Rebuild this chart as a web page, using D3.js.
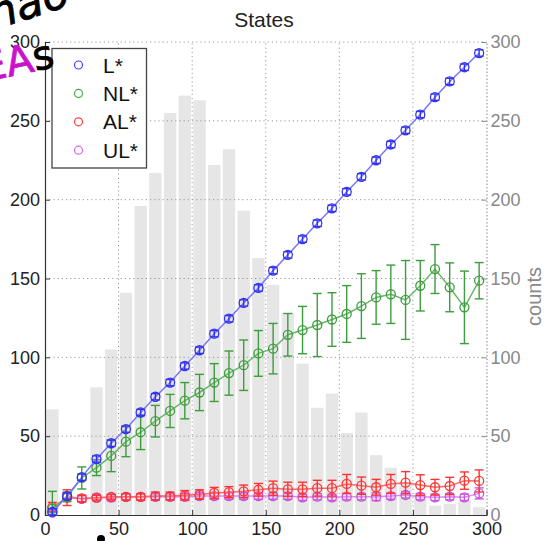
<!DOCTYPE html>
<html><head><meta charset="utf-8">
<script src="https://cdn.jsdelivr.net/npm/d3@7"></script>
<style>
body{margin:0;background:#fff;}
svg{display:block;font-family:"Liberation Sans",Arial,sans-serif;}
</style></head>
<body><svg id="chart" width="544" height="541"></svg>
<script>
const xCenters = [5,15,25,35,45,55,65,75,85,95,105,115,125,135,145,155,165,175,185,195,205,215,225,235,245,255,265,275,285,295];
const counts = [67,0,0,81,105,141,196,217,255,266,263,222,232,193,163,146,128,96,68,77,52,65,38,30,21,14,6,7,9,5];
const L   = [2,12,24,35.5,45.5,54.5,65,75,84,94.5,104.5,115,124.5,134.5,144,155,165,175,185,194.5,205,214.5,225,235,244,254,265,275,284,293];
const Lerr= [2,2,2,2,2,2,2,2,2,2,2,2,2,2,2,2,2,2,2,2,2,2,2,2,2,2,2,2,2,2];
const NL  = [4,11.5,23.5,30,37.5,46.5,52.5,59.5,66,72.5,77.7,84,90,95,102.5,105.5,114.3,117.3,120.5,124,127.5,132.5,138,140,136.4,145.4,156,144.4,131.7,148.6];
const NLerr=[11,3,7,5,10,9.5,11,10,10.5,11.5,11.5,12,14,16,14.5,16,13.5,15,20,17,18,20.5,17,18.5,25,16,15.5,15.5,23,11.5];
const AL  = [5,11,10.5,11,11.5,11.5,11.5,12,12,12.5,13,14,14.5,15,16,17,16.3,16.3,17,17,19.7,18.6,17.6,19.7,20.5,19,17.6,18.4,21.8,21.6];
const ALerr=[3,5,2,1.5,1.5,2,2,2.5,2.5,3,3,3.5,3.5,4,4,4.5,4.5,4.5,5,5,6,5.5,5,6,7,6.5,5,5.5,5.5,7];
const UL  = [1.5,12,10.2,11,11,11.5,11.5,11.5,11.5,11.5,12,12,12,12,12,12,12,11.2,11.6,11.2,11.6,11.6,11.6,12,12.7,11.6,11.2,11.6,11.2,13.7];
const ULerr=[2,2,2,2,2,2,2,2,2,2,2,2,2,2,2,2,2,2,2,2,2,2,2.5,2,2,2,2,2,2,3.5];
const seriesNames = ["L*","NL*","AL*","UL*"];
const xTicks = [0,50,100,150,200,250,300];
const yTicks = [0,50,100,150,200,250,300];
const binWidth = 10;

const svg = d3.select("#chart");
const x = d3.scaleLinear().domain([0,300]).range([45,486.5]);
const y = d3.scaleLinear().domain([0,300]).range([515,42]);
const yR = d3.scaleLinear().domain([0,300]).range([515,42]);

// bars
svg.append("g").selectAll("rect").data(counts).join("rect")
  .attr("x",(d,i)=>x(xCenters[i]-binWidth*0.42))
  .attr("width",(d,i)=>x(xCenters[i]+binWidth*0.42)-x(xCenters[i]-binWidth*0.42))
  .attr("y",d=>yR(d)).attr("height",d=>yR(0)-yR(d))
  .attr("fill","#e6e6e6");

// grid
const grid = svg.append("g").attr("stroke","#999").attr("stroke-width",1).attr("stroke-dasharray","1.2,3");
grid.selectAll(".gx").data(xTicks.slice(1,-1)).join("line")
  .attr("x1",d=>x(d)).attr("x2",d=>x(d)).attr("y1",y(0)).attr("y2",y(300));
grid.selectAll(".gy").data(yTicks.slice(1)).join("line")
  .attr("x1",x(0)).attr("x2",x(300)).attr("y1",d=>y(d)).attr("y2",d=>y(d));

// right axis
const axR = svg.append("g").attr("transform",`translate(${x(300)},0)`)
  .call(d3.axisRight(yR).tickValues(yTicks).tickSize(-5).tickPadding(4));
axR.select(".domain").attr("stroke","#888").attr("stroke-dasharray","1.5,2");
axR.selectAll(".tick line").attr("stroke","#888");
axR.selectAll("text").attr("fill","#888").style("font-size","18px");
svg.append("text").attr("transform",`translate(541,${(y(0)+y(300))/2+18}) rotate(-90)`)
  .attr("text-anchor","middle").attr("fill","#888").style("font-size","20px").text("counts");

// left & bottom axes
const axL = svg.append("g").attr("transform",`translate(${x(0)},0)`)
  .call(d3.axisLeft(y).tickValues(yTicks).tickSize(-5).tickPadding(5));
const axB = svg.append("g").attr("transform",`translate(0,${y(0)})`)
  .call(d3.axisBottom(x).tickValues(xTicks).tickSize(-5).tickPadding(7));
[axL,axB].forEach(a=>{
  a.select(".domain").attr("stroke","#333").attr("stroke-width",1.2);
  a.selectAll(".tick line").attr("stroke","#333");
  a.selectAll("text").attr("fill","#222").style("font-size","18px");
});

// title
svg.append("text").attr("x",264).attr("y",27).attr("text-anchor","middle")
  .attr("fill","#222").style("font-size","21px").text("States");

// series
const series = [
  {vals:UL, err:ULerr, line:"#dd88ee", mark:"#cc55dd"},
  {vals:AL, err:ALerr, line:"#ff6666", mark:"#ff3333"},
  {vals:NL, err:NLerr, line:"#66b866", mark:"#3d9c3d"},
  {vals:L,  err:Lerr,  line:"#7777ff", mark:"#3333ee"}
];
const clip = v=>Math.max(0,Math.min(300,v));
series.forEach(s=>{
  const g = svg.append("g");
  g.append("path").datum(s.vals)
    .attr("d",d3.line().x((d,i)=>x(xCenters[i])).y(d=>y(d)))
    .attr("fill","none").attr("stroke",s.line).attr("stroke-width",1.5);
  const eb = g.append("g").attr("stroke",s.mark).attr("stroke-width",1.4);
  eb.selectAll(".v").data(s.vals).join("line")
    .attr("x1",(d,i)=>x(xCenters[i])).attr("x2",(d,i)=>x(xCenters[i]))
    .attr("y1",(d,i)=>y(clip(d-s.err[i]))).attr("y2",(d,i)=>y(clip(d+s.err[i])));
  eb.selectAll(".t").data(s.vals).join("line")
    .attr("x1",(d,i)=>x(xCenters[i])-4.5).attr("x2",(d,i)=>x(xCenters[i])+4.5)
    .attr("y1",(d,i)=>y(clip(d+s.err[i]))).attr("y2",(d,i)=>y(clip(d+s.err[i])));
  eb.selectAll(".b").data(s.vals).join("line")
    .attr("x1",(d,i)=>x(xCenters[i])-4.5).attr("x2",(d,i)=>x(xCenters[i])+4.5)
    .attr("y1",(d,i)=>y(clip(d-s.err[i]))).attr("y2",(d,i)=>y(clip(d-s.err[i])));
  g.selectAll("circle").data(s.vals).join("circle")
    .attr("cx",(d,i)=>x(xCenters[i])).attr("cy",d=>y(d)).attr("r",4.5)
    .attr("fill","none").attr("stroke",s.mark).attr("stroke-width",1.3);
});

// legend
const lg = svg.append("g");
lg.append("rect").attr("x",52).attr("y",48.5).attr("width",94.5).attr("height",119.5)
  .attr("fill","#fff").attr("stroke","#444").attr("stroke-width",1.3);
const legMarks = ["#4444ff","#44aa44","#ff4444","#dd66ee"];
seriesNames.forEach((n,i)=>{
  const yy = 65 + i*28.4;
  lg.append("circle").attr("cx",78.5).attr("cy",yy).attr("r",4).attr("fill","none")
    .attr("stroke",legMarks[i]).attr("stroke-width",1.2);
  lg.append("text").attr("x",103).attr("y",yy+7.5).attr("fill","#111")
    .style("font-size","21px").text(n);
});

// handwritten overlay fragments
svg.append("text").attr("transform","translate(-6,30) rotate(-18)")
  .style("font-family","'DejaVu Sans'").style("font-style","italic").style("font-size","44px")
  .attr("fill","#000").attr("stroke","#000").attr("stroke-width",0.8).text("nao");
const hw = svg.append("text").attr("transform","translate(-16,82) rotate(-12)")
  .style("font-family","'DejaVu Sans'").style("font-size","40px").attr("stroke-width",0.8);
hw.append("tspan").attr("fill","#cc11cc").attr("stroke","#cc11cc").text("EA");
hw.append("tspan").attr("fill","#000").attr("stroke","#000").text("s");
svg.append("circle").attr("cx",101).attr("cy",539).attr("r",4).attr("fill","#000");
</script></body></html>
